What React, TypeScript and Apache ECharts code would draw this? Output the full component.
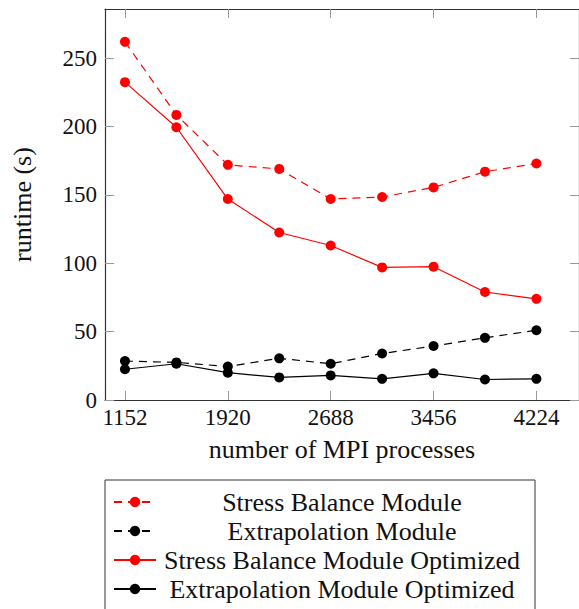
import React, { useEffect, useRef } from "react";
import * as echarts from "echarts";

const processes = [1152, 1536, 1920, 2304, 2688, 3072, 3456, 3840, 4224];
const xTicks = [1152, 1920, 2688, 3456, 4224];
const yTicks = [0, 50, 100, 150, 200, 250];
const stressBalance = [262, 208.5, 172, 169, 147, 148.5, 155.5, 167, 173];
const extrapolation = [28.5, 27.5, 24.5, 30.5, 26.5, 34, 39.5, 45.5, 51];
const stressBalanceOpt = [232.5, 199.5, 147, 122.5, 113, 97, 97.5, 79, 74];
const extrapolationOpt = [22.5, 26.5, 20, 16.5, 18, 15.5, 19.5, 15, 15.5];
const seriesNames = [
  "Stress Balance Module",
  "Extrapolation Module",
  "Stress Balance Module Optimized",
  "Extrapolation Module Optimized",
];

const FONT = "\"Liberation Serif\"";
const RED = "#ff0000";
const BLACK = "#000000";
const DASH = [8, 6];

export default function App() {
  const ref = useRef<HTMLDivElement>(null);
  useEffect(() => {
    if (!ref.current) return;
    const chart = echarts.init(ref.current, null, { renderer: "svg" });
    const pair = (ys: number[]) => processes.map((x, i) => [x, ys[i]]);
    const mk = (name: string, ys: number[], color: string, dashed: boolean, z: number) => ({
      name,
      type: "line",
      data: pair(ys),
      symbol: "circle",
      symbolSize: 10,
      z,
      itemStyle: { color },
      lineStyle: { color, width: 1.2, type: dashed ? DASH : "solid" },
    });
    const axisLine = { show: true, onZero: false, lineStyle: { color: "#333", width: 1.2 } };
    const tickStyle = { color: "#999", width: 1 };
    chart.setOption({
      animation: false,
      backgroundColor: "#fff",
      grid: { left: 105, top: 9, width: 475, bottom: 209, containLabel: false },
      xAxis: [
        {
          type: "value",
          gridIndex: 0,
          position: "bottom",
          min: 1003,
          max: 4542,
          splitLine: { show: false },
          axisLine,
          axisTick: { show: true, inside: true, length: 9, customValues: xTicks, lineStyle: tickStyle },
          name: "number of MPI processes",
          nameLocation: "middle",
          nameGap: 35,
          nameTextStyle: { fontFamily: FONT, fontSize: 26, color: "#111", lineHeight: 28 },
          axisLabel: {
            customValues: xTicks,
            formatter: (v: number) => String(v),
            fontFamily: FONT,
            fontSize: 23,
            color: "#111",
            margin: 6,
          },
        },
        {
          type: "value",
          gridIndex: 0,
          position: "top",
          min: 1003,
          max: 4542,
          splitLine: { show: false },
          axisLine,
          axisTick: { show: true, inside: true, length: 9, customValues: xTicks, lineStyle: tickStyle },
          axisLabel: { show: false, customValues: xTicks },
        },
      ],
      yAxis: [
        {
          type: "value",
          gridIndex: 0,
          position: "left",
          min: 0,
          max: 286,
          splitLine: { show: false },
          axisLine,
          axisTick: { show: true, inside: true, length: 9, customValues: yTicks, lineStyle: tickStyle },
          name: "runtime (s)",
          nameLocation: "middle",
          nameGap: 69,
          nameTextStyle: { fontFamily: FONT, fontSize: 26, color: "#111", lineHeight: 28 },
          axisLabel: {
            customValues: yTicks,
            formatter: (v: number) => String(v),
            fontFamily: FONT,
            fontSize: 23,
            color: "#111",
            margin: 8,
          },
        },
        {
          type: "value",
          gridIndex: 0,
          position: "right",
          min: 0,
          max: 286,
          splitLine: { show: false },
          axisLine,
          axisTick: { show: true, inside: true, length: 9, customValues: yTicks, lineStyle: tickStyle },
          axisLabel: { show: false, customValues: yTicks },
        },
      ],
      legend: {
        orient: "vertical",
        left: 105,
        top: 480,
        height: 160,
        padding: [9, 12, 14, 8],
        itemWidth: 42,
        itemHeight: 13,
        itemGap: 3,
        borderColor: "#333",
        borderWidth: 1,
        backgroundColor: "#fff",
        data: seriesNames,
        formatter: (n: string) => `{c|${n}}`,
        textStyle: {
          fontFamily: FONT,
          fontSize: 26,
          color: "#111",
          lineHeight: 24,
          rich: {
            c: { width: 362, align: "center", fontFamily: FONT, fontSize: 26, color: "#111", lineHeight: 24 },
          },
        },
      },
      series: [
        mk(seriesNames[0], stressBalance, RED, true, 2),
        mk(seriesNames[1], extrapolation, BLACK, true, 2),
        mk(seriesNames[2], stressBalanceOpt, RED, false, 3),
        mk(seriesNames[3], extrapolationOpt, BLACK, false, 3),
      ],
    });
    return () => chart.dispose();
  }, []);
  return <div ref={ref} style={{ position: "fixed", left: 0, top: 0, width: 579, height: 609 }} />;
}
